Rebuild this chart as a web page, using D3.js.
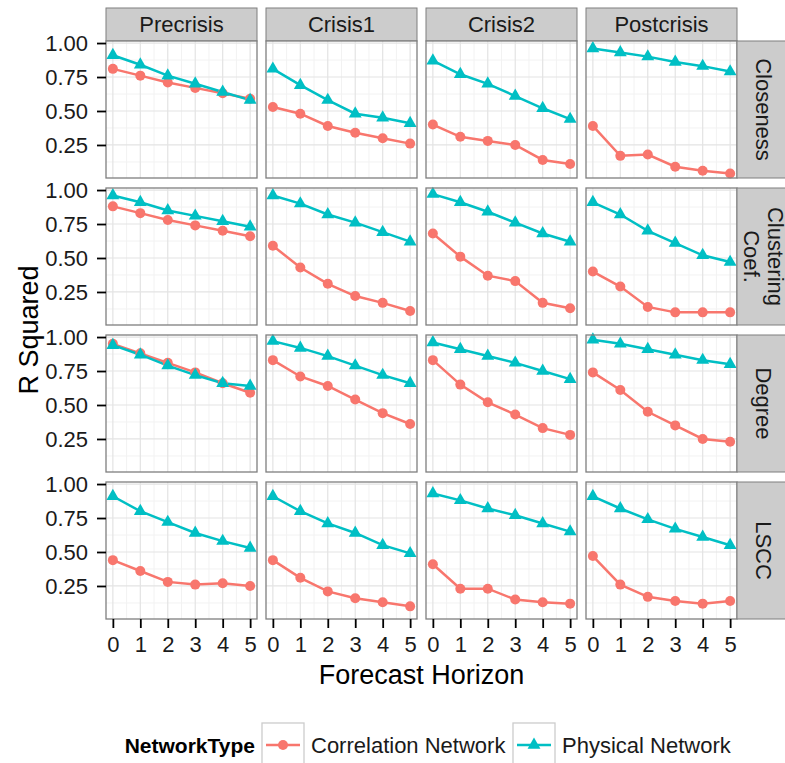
<!DOCTYPE html>
<html>
<head>
<meta charset="utf-8">
<script src="https://cdn.jsdelivr.net/npm/d3@7"></script>
<style>
  body { margin: 0; background: #fff; }
  svg text { font-family: "Liberation Sans", Arial, Helvetica, sans-serif; }
</style>
</head>
<body>
<div id="chart"></div>
<script>
// Facet layout values
const horizons = [0, 1, 2, 3, 4, 5];
const periods = ['Precrisis', 'Crisis1', 'Crisis2', 'Postcrisis'];
const measures = ['Closeness', 'Clustering\nCoef.', 'Degree', 'LSCC'];
const yTicks = [0.25, 0.5, 0.75, 1.0];
const networkTypes = ['Correlation Network', 'Physical Network'];

// R squared per measure, one row per period (Precrisis, Crisis1, Crisis2, Postcrisis)
const closenessCorr = [
  [0.81, 0.76, 0.71, 0.67, 0.63, 0.59],
  [0.53, 0.48, 0.39, 0.34, 0.30, 0.26],
  [0.40, 0.31, 0.28, 0.25, 0.14, 0.11],
  [0.39, 0.17, 0.18, 0.09, 0.06, 0.04]
];
const closenessPhys = [
  [0.91, 0.84, 0.76, 0.70, 0.64, 0.58],
  [0.81, 0.69, 0.58, 0.48, 0.45, 0.41],
  [0.87, 0.77, 0.70, 0.61, 0.52, 0.44],
  [0.96, 0.93, 0.90, 0.86, 0.83, 0.79]
];
const clusteringCorr = [
  [0.88, 0.83, 0.78, 0.74, 0.70, 0.66],
  [0.59, 0.43, 0.31, 0.22, 0.17, 0.11],
  [0.68, 0.51, 0.37, 0.33, 0.17, 0.13],
  [0.40, 0.29, 0.14, 0.10, 0.10, 0.10]
];
const clusteringPhys = [
  [0.96, 0.91, 0.85, 0.81, 0.77, 0.73],
  [0.96, 0.90, 0.82, 0.76, 0.69, 0.62],
  [0.97, 0.91, 0.84, 0.76, 0.68, 0.62],
  [0.91, 0.82, 0.70, 0.61, 0.52, 0.47]
];
const degreeCorr = [
  [0.95, 0.88, 0.81, 0.74, 0.66, 0.59],
  [0.83, 0.71, 0.64, 0.54, 0.44, 0.36],
  [0.83, 0.65, 0.52, 0.43, 0.33, 0.28],
  [0.74, 0.61, 0.45, 0.35, 0.25, 0.23]
];
const degreePhys = [
  [0.94, 0.87, 0.79, 0.72, 0.66, 0.64],
  [0.97, 0.92, 0.86, 0.79, 0.72, 0.66],
  [0.96, 0.91, 0.86, 0.81, 0.75, 0.69],
  [0.98, 0.95, 0.91, 0.87, 0.83, 0.80]
];
const lsccCorr = [
  [0.44, 0.36, 0.28, 0.26, 0.27, 0.25],
  [0.44, 0.31, 0.21, 0.16, 0.13, 0.10],
  [0.41, 0.23, 0.23, 0.15, 0.13, 0.12],
  [0.47, 0.26, 0.17, 0.14, 0.12, 0.14]
];
const lsccPhys = [
  [0.91, 0.80, 0.72, 0.64, 0.58, 0.53],
  [0.91, 0.80, 0.71, 0.64, 0.55, 0.49],
  [0.93, 0.88, 0.82, 0.77, 0.71, 0.65],
  [0.91, 0.82, 0.74, 0.67, 0.61, 0.55]
];

const corrRows = [closenessCorr, clusteringCorr, degreeCorr, lsccCorr];
const physRows = [closenessPhys, clusteringPhys, degreePhys, lsccPhys];

// Geometry
const W = 785, H = 763;
const panelLeft = 106, panelW = 151, colGap = 9;
const panelTop = 41, panelH = 137, rowGap = 10;
const stripH = 33, stripW = 55;
const RED = '#F8766D', TEAL = '#00BFC4';
const FS = 22;

const svg = d3.select('#chart').append('svg')
  .attr('width', W).attr('height', H);

const x = d3.scaleLinear().domain([-0.25, 5.25]).range([0, panelW]);
const y = d3.scaleLinear().domain([0.007, 1.015]).range([panelH, 0]);

const xMinor = [0.5, 1.5, 2.5, 3.5, 4.5];
const yMinor = [0.125, 0.375, 0.625, 0.875];

const line = d3.line().x((d, i) => x(horizons[i])).y(d => y(d));
const tri = d3.symbol().type(d3.symbolTriangle).size(72);

periods.forEach((period, c) => {
  const px = panelLeft + c * (panelW + colGap);

  // column strip
  svg.append('rect')
    .attr('x', px).attr('y', panelTop - stripH)
    .attr('width', panelW).attr('height', stripH)
    .attr('fill', '#cccccc').attr('stroke', '#7f7f7f').attr('stroke-width', 1);
  svg.append('text')
    .attr('x', px + panelW / 2).attr('y', panelTop - stripH / 2)
    .attr('text-anchor', 'middle').attr('dominant-baseline', 'central')
    .attr('font-size', FS).attr('fill', '#1a1a1a')
    .text(period);

  measures.forEach((measure, r) => {
    const py = panelTop + r * (panelH + rowGap);
    const g = svg.append('g').attr('transform', `translate(${px},${py})`);

    g.append('rect').attr('width', panelW).attr('height', panelH).attr('fill', '#fff');

    // minor grid
    g.append('g').selectAll('line').data(xMinor).join('line')
      .attr('x1', d => x(d)).attr('x2', d => x(d))
      .attr('y1', 0).attr('y2', panelH)
      .attr('stroke', '#f2f2f2').attr('stroke-width', 1);
    g.append('g').selectAll('line').data(yMinor).join('line')
      .attr('x1', 0).attr('x2', panelW)
      .attr('y1', d => y(d)).attr('y2', d => y(d))
      .attr('stroke', '#f2f2f2').attr('stroke-width', 1);
    // major grid
    g.append('g').selectAll('line').data(horizons).join('line')
      .attr('x1', d => x(d)).attr('x2', d => x(d))
      .attr('y1', 0).attr('y2', panelH)
      .attr('stroke', '#e3e3e3').attr('stroke-width', 1.2);
    g.append('g').selectAll('line').data(yTicks).join('line')
      .attr('x1', 0).attr('x2', panelW)
      .attr('y1', d => y(d)).attr('y2', d => y(d))
      .attr('stroke', '#e3e3e3').attr('stroke-width', 1.2);

    const corr = corrRows[r][c];
    const phys = physRows[r][c];

    g.append('path').datum(corr).attr('d', line)
      .attr('fill', 'none').attr('stroke', RED).attr('stroke-width', 2.5);
    g.append('path').datum(phys).attr('d', line)
      .attr('fill', 'none').attr('stroke', TEAL).attr('stroke-width', 2.5);

    g.append('g').selectAll('circle').data(corr).join('circle')
      .attr('cx', (d, i) => x(horizons[i])).attr('cy', d => y(d))
      .attr('r', 5).attr('fill', RED);
    g.append('g').selectAll('path').data(phys).join('path')
      .attr('d', tri)
      .attr('transform', (d, i) => `translate(${x(horizons[i])},${y(d)})`)
      .attr('fill', TEAL);

    // panel border
    g.append('rect').attr('width', panelW).attr('height', panelH)
      .attr('fill', 'none').attr('stroke', '#7f7f7f').attr('stroke-width', 1.3);

    // y axis on first column
    if (c === 0) {
      const ax = svg.append('g').attr('transform', `translate(${px},${py})`)
        .call(d3.axisLeft(y).tickValues(yTicks).tickFormat(d3.format('.2f')).tickSize(9).tickPadding(9));
      ax.select('.domain').remove();
      ax.selectAll('line').attr('stroke', '#000').attr('stroke-width', 1.8);
      ax.selectAll('text').attr('font-size', FS).attr('fill', '#1a1a1a')
        .attr('font-family', '"Liberation Sans", Arial, sans-serif');
    }
    // x axis on last row
    if (r === measures.length - 1) {
      const ax = svg.append('g').attr('transform', `translate(${px},${py + panelH})`)
        .call(d3.axisBottom(x).tickValues(horizons).tickFormat(d3.format('d')).tickSize(9).tickPadding(8));
      ax.select('.domain').remove();
      ax.selectAll('line').attr('stroke', '#000').attr('stroke-width', 1.8);
      ax.selectAll('text').attr('font-size', FS).attr('fill', '#1a1a1a')
        .attr('font-family', '"Liberation Sans", Arial, sans-serif');
    }

    // row strip on last column
    if (c === periods.length - 1) {
      const sx = px + panelW;
      svg.append('rect')
        .attr('x', sx).attr('y', py).attr('width', stripW).attr('height', panelH)
        .attr('fill', '#cccccc').attr('stroke', '#7f7f7f').attr('stroke-width', 1);
      const lines = measure.split('\n');
      const lh = 24;
      const t = svg.append('text')
        .attr('transform', `translate(${sx + stripW / 2 - 1},${py + panelH / 2}) rotate(90)`)
        .attr('text-anchor', 'middle').attr('font-size', FS).attr('fill', '#1a1a1a');
      lines.forEach((s, i) => {
        t.append('tspan').attr('x', 0)
          .attr('y', (i - (lines.length - 1) / 2) * lh)
          .attr('dominant-baseline', 'central')
          .text(s);
      });
    }
  });
});

// axis titles
const gridBottom = panelTop + 4 * panelH + 3 * rowGap;
svg.append('text')
  .attr('transform', `translate(29,${(panelTop + gridBottom) / 2}) rotate(-90)`)
  .attr('text-anchor', 'middle').attr('dominant-baseline', 'central')
  .attr('font-size', 27).text('R Squared');
svg.append('text')
  .attr('x', panelLeft + (4 * panelW + 3 * colGap) / 2).attr('y', 684)
  .attr('text-anchor', 'middle').attr('font-size', 27).text('Forecast Horizon');

// legend
const legY = 745;
svg.append('text')
  .attr('x', 255).attr('y', legY).attr('text-anchor', 'end')
  .attr('dominant-baseline', 'central')
  .attr('font-size', 21).attr('font-weight', 'bold').text('NetworkType');

const keyX = [262, 513];
const keyW = 42, keyH = 44;
networkTypes.forEach((name, i) => {
  const kx = keyX[i];
  const col = i === 0 ? RED : TEAL;
  svg.append('rect').attr('x', kx).attr('y', legY - keyH / 2)
    .attr('width', keyW).attr('height', keyH)
    .attr('fill', '#fff').attr('stroke', '#cccccc').attr('stroke-width', 1.3);
  svg.append('line').attr('x1', kx + 4).attr('x2', kx + keyW - 4)
    .attr('y1', legY).attr('y2', legY).attr('stroke', col).attr('stroke-width', 2.5);
  if (i === 0) {
    svg.append('circle').attr('cx', kx + keyW / 2).attr('cy', legY).attr('r', 5).attr('fill', col);
  } else {
    svg.append('path').attr('d', tri)
      .attr('transform', `translate(${kx + keyW / 2},${legY})`).attr('fill', col);
  }
  svg.append('text').attr('x', kx + keyW + 7).attr('y', legY)
    .attr('dominant-baseline', 'central').attr('font-size', FS).attr('fill', '#1a1a1a')
    .text(name);
});
</script>
</body>
</html>
